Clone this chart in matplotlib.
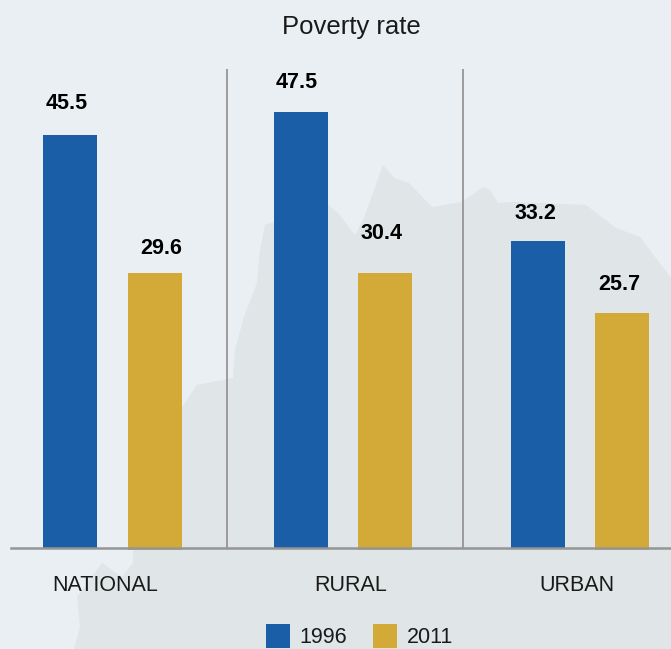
import matplotlib
matplotlib.use("Agg")
import matplotlib.pyplot as plt
from matplotlib.patches import Polygon

# data
grupos = ["NATIONAL", "RURAL", "URBAN"]
altura_1996 = [45.35, 47.9, 33.7]   # bar heights as drawn in the picture
altura_2011 = [30.2, 30.2, 25.8]
rotulos_1996 = ["45.5", "47.5", "33.2"]
rotulos_2011 = ["29.6", "30.4", "25.7"]

# layout (pixels of the 671x649 picture)
W, H = 671, 649
BASE = 547.5
ESCALA = 9.1
x_1996 = [70, 301, 538]
x_2011 = [155, 385, 622]
x_grupos = [105, 351, 577]
separadores = [227, 463]
desloc_1996 = [(-3, 31), (-4, 29), (-3, 27)]
desloc_2011 = [(6, 24), (-3, 39), (-3, 28)]

AZUL = "#1B5EA8"
OURO = "#D3AA38"
CINZA = "#959595"
FUNDO = "#E9EFF2"
MAPA = "#E0E6E7"

plt.rcParams["font.family"] = ["Liberation Sans", "DejaVu Sans"]

fig = plt.figure(figsize=(W / 100, H / 100), dpi=100, facecolor=FUNDO)

# map silhouette behind the chart
fundo = fig.add_axes([0, 0, 1, 1], zorder=0)
fundo.set_xlim(0, W)
fundo.set_ylim(H, 0)
fundo.axis("off")
contorno = [(74, 649), (80, 627), (77, 597), (102, 563), (122, 577), (133, 563),
            (133, 550), (182, 407), (197, 385), (233, 378), (235, 350), (244, 317),
            (257, 283), (260, 250), (265, 225), (274, 222), (328, 205), (338, 213),
            (355, 235), (364, 218), (383, 165), (394, 178), (409, 183), (432, 207),
            (462, 202), (483, 187), (490, 190), (498, 203), (513, 202), (586, 205),
            (616, 228), (640, 237), (671, 278), (671, 649)]
fundo.add_patch(Polygon(contorno, closed=True, facecolor=MAPA, edgecolor="none"))

ax = fig.add_axes([11 / W, (H - BASE) / H, (W - 11) / W, BASE / H], zorder=1)
ax.patch.set_visible(False)
ax.set_xlim(11, W)
ax.set_ylim(0, BASE / ESCALA)

b1 = ax.bar(x_1996, altura_1996, width=54, color=AZUL, label="1996")
# gold bars run a little below the baseline in the original
b2 = ax.bar(x_2011, [a + 0.25 for a in altura_2011], width=54, bottom=-0.25,
            color=OURO, label="2011", clip_on=False)

ax.vlines(separadores, 0, (BASE - 69) / ESCALA, color=CINZA, lw=1.3)

for x, y, txt, d in zip(x_1996, altura_1996, rotulos_1996, desloc_1996):
    ax.annotate(txt, (x, y), xytext=(d[0] * 0.72, d[1] * 0.72), textcoords="offset points",
                ha="center", va="center", fontsize=15.5, fontweight="bold", color="black")
for x, y, txt, d in zip(x_2011, altura_2011, rotulos_2011, desloc_2011):
    ax.annotate(txt, (x, y), xytext=(d[0] * 0.72, d[1] * 0.72), textcoords="offset points",
                ha="center", va="center", fontsize=15.5, fontweight="bold", color="black")

for lado in ["top", "left", "right"]:
    ax.spines[lado].set_visible(False)
ax.spines["bottom"].set_color(CINZA)
ax.spines["bottom"].set_linewidth(1.8)

ax.set_yticks([])
ax.set_xticks(x_grupos)
ax.set_xticklabels(grupos, fontsize=15.5, color="#1a1a1a")
ax.tick_params(axis="x", length=0, pad=19.5)

fig.text(351 / W, 1 - 27 / H, "Poverty rate", ha="center", va="center", fontsize=18.5, color="#1a1a1a")

fig.legend(handles=[b1, b2], loc="lower left", bbox_to_anchor=(266 / W, 1 / H), ncol=2,
           frameon=False, fontsize=15.5, handlelength=1.12, handleheight=1.3,
           handletextpad=0.45, columnspacing=1.2, labelcolor="#1a1a1a",
           borderpad=0, borderaxespad=0)

fig.savefig("out.png", dpi=100, facecolor=FUNDO)
